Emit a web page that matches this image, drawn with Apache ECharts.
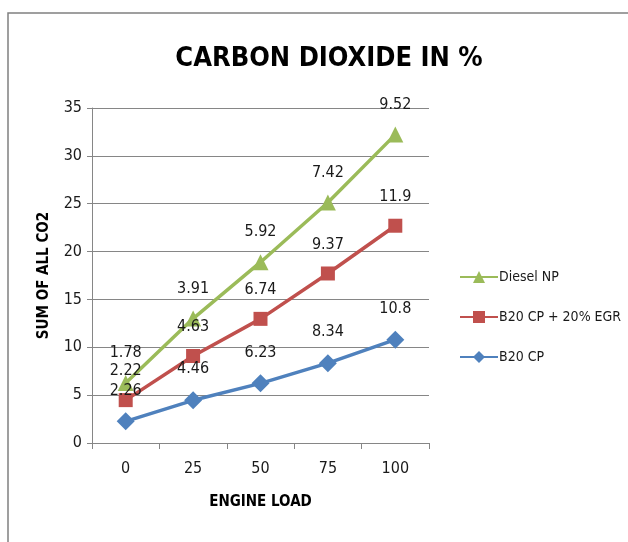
<!DOCTYPE html>
<html><head><meta charset="utf-8">
<script src="https://cdn.jsdelivr.net/npm/echarts@6/dist/echarts.min.js"></script>
<style>html,body{margin:0;padding:0;background:#fff}#c{width:628px;height:542px}</style>
</head><body><div id="c"></div>
<script>
const categories = ['0', '25', '50', '75', '100'];
const b20cp = [2.26, 4.46, 6.23, 8.34, 10.8];
const b20egr = [2.22, 4.63, 6.74, 9.37, 11.9];
const dieselNP = [1.78, 3.91, 5.92, 7.42, 9.52];
const yTicks = [0, 5, 10, 15, 20, 25, 30, 35];

const FONT = '"Liberation Sans Narrow","DejaVu Sans Condensed","Liberation Sans",sans-serif';
const chart = echarts.init(document.getElementById('c'));
const lbl = {show: true, position: 'top', distance: 14, fontFamily: FONT, fontSize: 16, color: '#1a1a1a'};
function mk(name, data, color, symbol, size) {
  return {name, type: 'line', stack: 'total', data, symbol, symbolSize: size,
    lineStyle: {color, width: 3.5}, itemStyle: {color}, label: lbl, z: 3};
}
chart.setOption({
  animation: false,
  graphic: [{type: 'rect', shape: {x: 8, y: 13, width: 640, height: 560},
    style: {fill: 'none', stroke: '#808080', lineWidth: 1.5}, silent: true}],
  title: {text: 'CARBON DIOXIDE IN %', left: 324, top: 40, textAlign: 'center',
    textStyle: {fontFamily: FONT, fontSize: 27, fontWeight: 'bold', color: '#000'}},
  grid: {left: 92, right: 199, top: 108, bottom: 99},
  legend: {orient: 'vertical', left: 454, top: 265, itemGap: 26, itemWidth: 38, itemHeight: 15,
    data: ['Diesel NP', 'B20 CP + 20% EGR', 'B20 CP'],
    textStyle: {fontFamily: FONT, fontSize: 14, color: '#1a1a1a', padding: [0, 0, 0, -4]}},
  xAxis: {type: 'category', data: categories, boundaryGap: true,
    name: 'ENGINE LOAD', nameLocation: 'middle', nameGap: 52,
    nameTextStyle: {fontFamily: FONT, fontSize: 15, fontWeight: 'bold', color: '#000'},
    axisLine: {lineStyle: {color: '#868686', width: 1}},
    axisTick: {show: true, length: 6, alignWithLabel: false, lineStyle: {color: '#868686'}},
    axisLabel: {fontFamily: FONT, fontSize: 16, color: '#1a1a1a', margin: 18}},
  yAxis: {type: 'value', min: yTicks[0], max: yTicks[yTicks.length - 1], interval: 5,
    name: 'SUM OF ALL CO2', nameLocation: 'middle', nameGap: 40,
    nameTextStyle: {fontFamily: FONT, fontSize: 15, fontWeight: 'bold', color: '#000'},
    axisLine: {show: true, lineStyle: {color: '#868686', width: 1}},
    axisTick: {show: true, length: 5, lineStyle: {color: '#868686'}},
    splitLine: {lineStyle: {color: '#868686', width: 1}},
    axisLabel: {fontFamily: FONT, fontSize: 16, color: '#1a1a1a', margin: 10}},
  series: [
    mk('B20 CP', b20cp, '#4F81BD', 'diamond', 18),
    mk('B20 CP + 20% EGR', b20egr, '#C0504D', 'rect', 14),
    mk('Diesel NP', dieselNP, '#9BBB59', 'triangle', 16)
  ]
});
</script></body></html>
